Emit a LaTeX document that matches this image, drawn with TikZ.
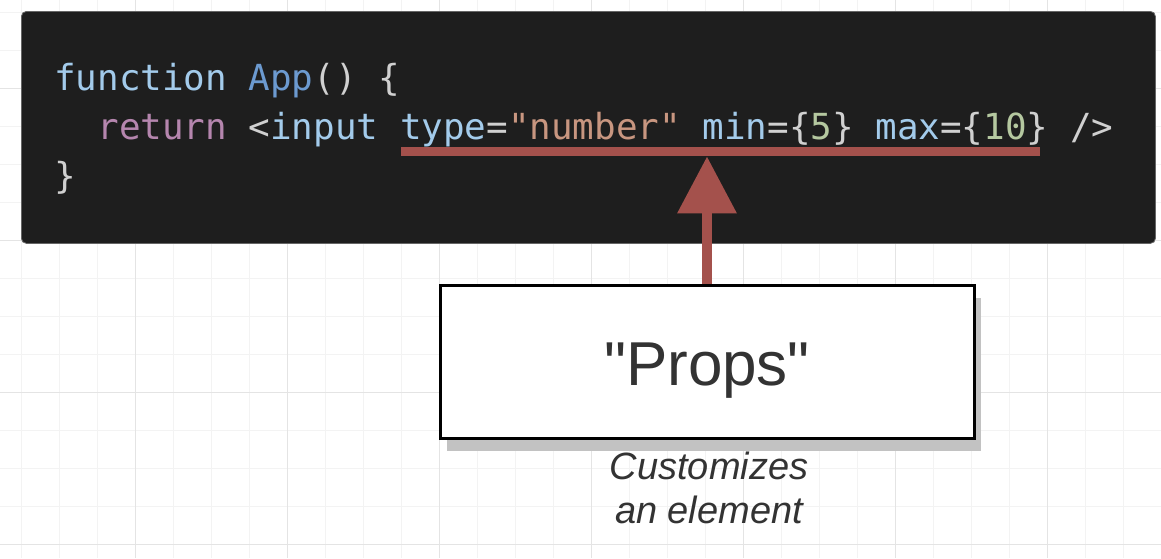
\documentclass[tikz,border=0pt]{standalone}
\usepackage{fontspec}
\setmainfont{Liberation Sans}[Ligatures=TeXOff]
\newfontfamily\codefont{DejaVu Sans Mono}[Ligatures=TeXOff]
\usetikzlibrary{arrows.meta,shadows}
\definecolor{codebg}{HTML}{1E1E1E}
\definecolor{kwblue}{HTML}{A3CBEB}
\definecolor{fnblue}{HTML}{6C9AD0}
\definecolor{kwpurple}{HTML}{B586AE}
\definecolor{punct}{HTML}{D0D0D0}
\definecolor{strcol}{HTML}{C89680}
\definecolor{numcol}{HTML}{B5C8A0}
\definecolor{accent}{HTML}{A4514C}
\definecolor{gridminor}{HTML}{F3F3F3}
\definecolor{gridmajor}{HTML}{E4E4E4}
\definecolor{txt}{HTML}{333333}
\definecolor{shadowgrey}{HTML}{C2C2C2}
\tikzset{
  codeline/.style={anchor=base west, inner sep=0pt, font=\codefont\fontsize{35.9}{40}\selectfont},
  propsbox/.style={draw=black, line width=3pt, fill=white, minimum width=534pt, minimum height=153pt,
    inner sep=0pt,
    drop shadow={shadow xshift=7pt, shadow yshift=-13pt, fill=shadowgrey, opacity=1}},
  propslabel/.style={anchor=base, inner sep=0pt, text=txt, font=\fontsize{62}{70}\selectfont},
  caption/.style={align=center, inner sep=0pt, text=txt, font=\itshape\fontsize{38}{44}\selectfont},
  pointer/.style={draw=accent, line width=10pt, -{Triangle[width=57pt,length=57pt]}},
}
\newcommand{\kc}[2]{\textcolor{#1}{#2}}
\begin{document}
\begin{tikzpicture}[x=1pt,y=-1pt]
\useasboundingbox (0,0) rectangle (1161,558);
\fill[white] (0,0) rectangle (1161,558);
% grid
\foreach \gx in {21,59,97,135,173,211,249,287,325,363,401,439,477,515,553,591,629,667,705,743,781,819,857,895,933,971,1009,1047,1085,1123}
  \draw[gridminor, line width=1pt] (\gx,0) -- (\gx,558);
\foreach \gy in {12,50,88,126,164,202,240,278,316,354,392,430,468,506,544}
  \draw[gridminor, line width=1pt] (0,\gy) -- (1161,\gy);
\foreach \gx in {135,287,439,591,743,895,1047}
  \draw[gridmajor, line width=1pt] (\gx,0) -- (\gx,558);
\foreach \gy in {88,240,392,544}
  \draw[gridmajor, line width=1pt] (0,\gy) -- (1161,\gy);
% code panel
\node[draw=black!60, line width=0.8pt, fill=codebg, rounded corners=5pt, minimum width=1134pt, minimum height=232pt, inner sep=0pt, anchor=north west] (code) at (21,11) {};
\node[codeline] (l1) at (54,90) {\kc{kwblue}{function} \kc{fnblue}{App}\kc{punct}{() \{}};
\node[codeline] (l2) at (54,139) {\phantom{xx}\kc{kwpurple}{return} \kc{punct}{<}\kc{kwblue}{input} \kc{kwblue}{type}\kc{punct}{=}\kc{strcol}{"number"} \kc{kwblue}{min}\kc{punct}{=\{}\kc{numcol}{5}\kc{punct}{\}} \kc{kwblue}{max}\kc{punct}{=\{}\kc{numcol}{10}\kc{punct}{\}} \kc{punct}{/>}};
\node[codeline] (l3) at (54,188) {\kc{punct}{\}}};
% underline
\node[fill=accent, minimum width=639pt, minimum height=9pt, inner sep=0pt, anchor=north west] (ul) at (401,147) {};
% props box
\node[propsbox] (props) at (707,361.5) {};
\node[propslabel] (plabel) at (707,385) {"Props"};
\draw[pointer] (props.north) -- (props.north |- ul.south);
% caption
\node[caption, anchor=base] (cap) at (709,523) {Customizes\\an element};
\end{tikzpicture}
\end{document}
